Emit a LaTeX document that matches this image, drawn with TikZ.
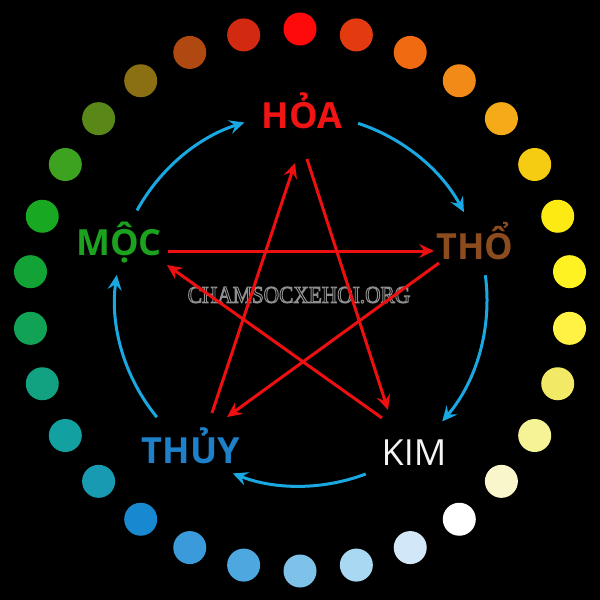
\documentclass[tikz,border=0pt]{standalone}
\usepackage{fontspec}
\newfontfamily\labfont{Open Sans}
\newfontfamily\wmfont{Liberation Serif}
\usetikzlibrary{arrows.meta}
\definecolor{cHoa}{HTML}{F01414}
\definecolor{cMoc}{HTML}{1CA21E}
\definecolor{cTho}{HTML}{8C4C1E}
\definecolor{cThuy}{HTML}{1E80C8}
\definecolor{cKim}{HTML}{F4F4F4}
\definecolor{cArc}{HTML}{1AA8E2}
\definecolor{cStar}{HTML}{EE1010}
\tikzset{
  lab/.style={font=\labfont\bfseries\fontsize{36}{36}\selectfont, anchor=base, inner sep=0pt},
  cyc/.style={draw=cArc, line width=3pt, -{Stealth[length=15pt, width=14pt, inset=5.5pt]}},
  ko/.style={draw=cStar, line width=3pt, -{Stealth[length=15pt, width=14pt, inset=5.5pt]}},
  dot/.style={circle, minimum size=33pt, inner sep=0pt},
  wm/.style={font=\wmfont\fontsize{24}{24}\selectfont, xscale=0.89, inner sep=0pt, text=black}
}
\newcommand\outlinedtext[1]{\special{pdf:literal direct 0.56 G 1.1 w 2 Tr}#1\special{pdf:literal direct 0 Tr}}
\begin{document}
\begin{tikzpicture}[x=1pt, y=-1pt]
\fill[black] (0,0) rectangle (600,600);
\useasboundingbox (0,0) rectangle (600,600);
% ring of dots, clockwise from the top
\foreach \c [count=\k from 0] in {FF0A0A,E43A10,F06A12,F28A18,F5AA18,F6CC12,FCEA12,FFF222,FFF244,F2EA66,F6F296,FAF6CC,FFFFFF,D2E8F8,A8D8F2,7EC2EA,4CA8DE,3A9ADA,1888D0,189AB2,12A0A0,12A282,12A256,12A236,18A822,3CA220,5A8818,8A7012,B04812,D22A10}{
  \definecolor{dc}{HTML}{\c}
  \node[dot, fill=dc] (d\k) at ({300+271*cos(90-12*\k)}, {300-271*sin(90-12*\k)}) {};
}
% labels
\node[lab, text=cHoa] (hoa) at (302,128) {HỎA};
\node[lab, text=cTho] (tho) at (475,259) {THỔ};
\node[lab, text=cKim, font=\labfont\fontsize{36}{36}\selectfont] (kim) at (414,465) {KIM};
\node[lab, text=cThuy] (thuy) at (191,463) {THỦY};
\node[lab, text=cMoc] (moc) at (119,255) {MỘC};
% watermark (outlined text)
\node[wm] (wm) at (299,295) {\outlinedtext{CHAMSOCXEHOI.ORG}};
% blue generating cycle
\draw[cyc] ([shift={(-151.2:186)}]300,300) arc[start angle=-151.2, end angle=-107.4, radius=186];
\draw[cyc] ([shift={(-71.8:186)}]300,300) arc[start angle=-71.8, end angle=-28.2, radius=186];
\draw[cyc] ([shift={(-7.6:187)}]300,300) arc[start angle=-7.6, end angle=40.5, radius=187];
\draw[cyc] ([shift={(69.3:186)}]300,300) arc[start angle=69.3, end angle=111.2, radius=186];
\draw[cyc] ([shift={(140.7:185)}]300,300) arc[start angle=140.7, end angle=187.8, radius=185];
% red star
\coordinate (hoaA) at (307,159);
\coordinate (kimA) at (388,410);
\coordinate (mocA) at (168,251);
\coordinate (thoA) at (434,251);
\coordinate (thoB) at (439,263);
\coordinate (thuyA) at (227,417);
\coordinate (kimB) at (382,418);
\coordinate (mocB) at (167,265);
\coordinate (thuyB) at (212,413);
\coordinate (hoaB) at (295,163);
\draw[ko] (hoaA) -- (kimA);
\draw[ko] (mocA) -- (thoA);
\draw[ko] (thoB) -- (thuyA);
\draw[ko] (kimB) -- (mocB);
\draw[ko] (thuyB) -- (hoaB);
\end{tikzpicture}
\end{document}
